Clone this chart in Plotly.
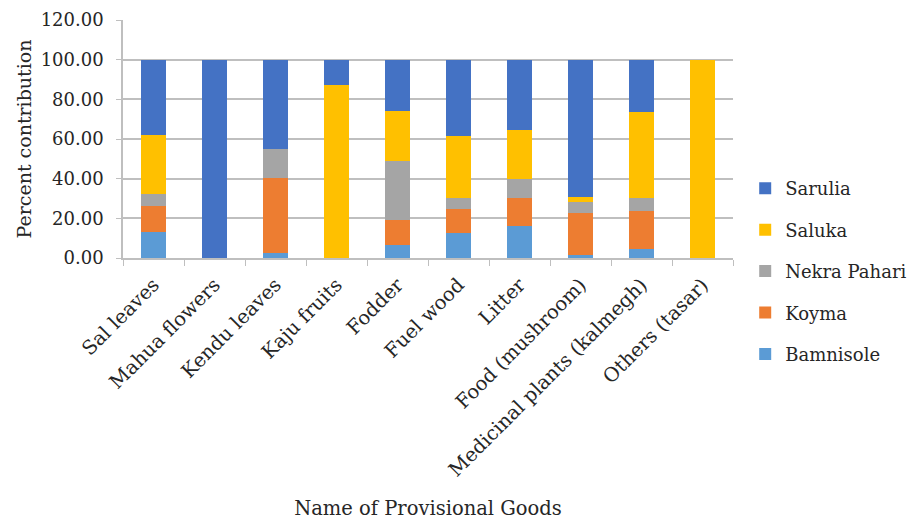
import plotly.graph_objects as go

categories = ["Sal leaves", "Mahua flowers", "Kendu leaves", "Kaju fruits", "Fodder",
              "Fuel wood", "Litter", "Food (mushroom)", "Medicinal plants (kalmegh)", "Others (tasar)"]
bamnisole = [13.2, 0, 2.5, 0, 6.4, 12.7, 15.9, 1.5, 4.4, 0]
koyma = [13.1, 0, 38.0, 0, 12.7, 12.1, 14.6, 21.0, 19.1, 0]
nekra_pahari = [6.1, 0, 14.3, 0, 30.0, 5.6, 9.2, 5.5, 6.9, 0]
saluka = [29.7, 0, 0, 87.2, 24.9, 31.3, 24.9, 2.9, 43.3, 100]
sarulia = [37.9, 100, 45.2, 12.8, 26.0, 38.3, 35.4, 69.1, 26.3, 0]
y_ticks = [0, 20, 40, 60, 80, 100, 120]

series = [
    ("Bamnisole", bamnisole, "#5B9BD5"),
    ("Koyma", koyma, "#ED7D31"),
    ("Nekra Pahari", nekra_pahari, "#A5A5A5"),
    ("Saluka", saluka, "#FFC000"),
    ("Sarulia", sarulia, "#4472C4"),
]

FONT = "DejaVu Serif"
fig = go.Figure()
for i, (name, vals, color) in enumerate(series):
    fig.add_trace(go.Bar(x=categories, y=vals, name=name, marker_color=color,
                         marker_line_width=0, legendgroup=name,
                         legendrank=len(series) - i))

fig.update_layout(
    barmode="stack",
    bargap=0.6,
    width=919, height=520,
    margin=dict(l=123, r=186, t=20, b=262, autoexpand=False),
    plot_bgcolor="white", paper_bgcolor="white",
    font=dict(family=FONT, size=19, color="#262626"),
    legend=dict(traceorder="grouped", x=1.02, xanchor="left", y=-0.055, yanchor="middle",
                tracegroupgap=15, font=dict(family=FONT, size=18, color="#262626"), itemwidth=30),
    xaxis=dict(type="category", tickangle=-45, tickson="boundaries", ticks="outside",
               ticklen=6, tickcolor="#bfbfbf", showline=True, linecolor="#bfbfbf", linewidth=1.5,
               ticklabelstandoff=6,
               title=dict(text="Name of Provisional Goods", standoff=21,
                          font=dict(family=FONT, size=19.5)),
               tickfont=dict(family=FONT, size=19.5), automargin=False),
    yaxis=dict(range=[0, 120], tickvals=y_ticks, tickformat=".2f", showgrid=True,
               gridcolor="#bfbfbf", gridwidth=1.5, showline=True, linecolor="#bfbfbf",
               linewidth=1.5, ticks="outside", ticklen=5, tickcolor="#bfbfbf",
               ticklabelstandoff=9,
               zeroline=False, automargin=False,
               title=dict(text="Percent contribution", standoff=4,
                          font=dict(family=FONT, size=19)),
               tickfont=dict(family=FONT, size=18)),
)
fig.write_html("out.html")
